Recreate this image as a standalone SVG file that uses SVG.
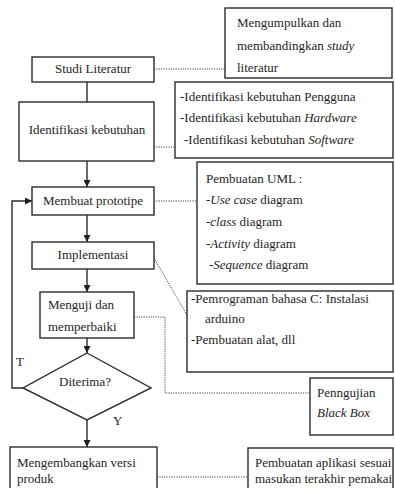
<svg xmlns="http://www.w3.org/2000/svg" width="395" height="488" viewBox="0 0 395 488">
<style>
.b{fill:#fff;stroke:#2b2b2b;stroke-width:1.4}
.t{font-family:'Liberation Serif','Times New Roman',Times,'DejaVu Serif',serif;font-size:13px;fill:#1e1e1e}
.c{text-anchor:middle}
.i{font-style:italic}
.ln{fill:none;stroke:#2b2b2b;stroke-width:1.4}
.dt{fill:none;stroke:#444;stroke-width:1;stroke-dasharray:1.2 1.2}
</style>
<defs>
<marker id="ah" viewBox="0 0 10 10" refX="10" refY="5" markerWidth="7" markerHeight="7" markerUnits="userSpaceOnUse" orient="auto">
<path d="M0,0 L10,5 L0,10 z" fill="#1e1e1e"/>
</marker>
</defs>
<rect width="395" height="488" fill="#fff"/>
<g id="connectors">
<line class="ln" x1="87" y1="82" x2="87" y2="102"/>
<line class="ln" x1="87" y1="161" x2="87" y2="187" marker-end="url(#ah)"/>
<line class="ln" x1="87" y1="215" x2="87" y2="242" marker-end="url(#ah)"/>
<line class="ln" x1="87" y1="269" x2="87" y2="292" marker-end="url(#ah)"/>
<line class="ln" x1="87" y1="338" x2="87" y2="353" marker-end="url(#ah)"/>
<line class="ln" x1="87" y1="420" x2="87" y2="447" marker-end="url(#ah)"/>
<polyline class="ln" points="23,388 12,388 12,201 32,201" marker-end="url(#ah)"/>
<line class="dt" x1="154" y1="69" x2="225" y2="69"/>
<line class="dt" x1="154" y1="147" x2="175" y2="147"/>
<line class="dt" x1="154" y1="201" x2="197" y2="201"/>
<line class="dt" x1="154" y1="258" x2="187" y2="315"/>
<polyline class="dt" points="134,317 165,317 165,393 310,393"/>
<line class="dt" x1="157" y1="477" x2="248" y2="477"/>
<text class="t" x="16" y="366">T</text>
<text class="t" x="113" y="425">Y</text>
</g>
<g id="studi">
<rect class="b" x="32" y="57" width="122" height="25"/>
<text class="t c" x="93" y="73">Studi Literatur</text>
</g>
<g id="note-studi">
<rect class="b" x="225" y="8" width="167" height="70"/>
<text class="t" x="237" y="27">Mengumpulkan dan</text>
<text class="t" x="237" y="50">membandingkan <tspan class="i">study</tspan></text>
<text class="t" x="237" y="72">literatur</text>
</g>
<g id="identifikasi">
<rect class="b" x="19" y="102" width="135" height="59"/>
<text class="t c" x="87" y="134">Identifikasi kebutuhan</text>
</g>
<g id="note-identifikasi">
<rect class="b" x="175" y="82" width="218" height="76"/>
<text class="t" x="180" y="101">-Identifikasi kebutuhan Pengguna</text>
<text class="t" x="180" y="122">-Identifikasi kebutuhan <tspan class="i">Hardware</tspan></text>
<text class="t" x="184" y="144">-Identifikasi kebutuhan <tspan class="i">Software</tspan></text>
</g>
<g id="prototipe">
<rect class="b" x="32" y="187" width="122" height="28"/>
<text class="t c" x="93" y="205">Membuat prototipe</text>
</g>
<g id="note-prototipe">
<rect class="b" x="197" y="162" width="196" height="122"/>
<text class="t" x="206" y="183">Pembuatan UML  :</text>
<text class="t" x="206" y="204"><tspan class="i">-Use case</tspan> diagram</text>
<text class="t" x="206" y="226">-<tspan class="i">class</tspan> diagram</text>
<text class="t" x="206" y="248">-<tspan class="i">Activity</tspan> diagram</text>
<text class="t" x="209" y="269">-<tspan class="i">Sequence</tspan> diagram</text>
</g>
<g id="implementasi">
<rect class="b" x="32" y="242" width="122" height="27"/>
<text class="t c" x="93" y="259">Implementasi</text>
</g>
<g id="note-implementasi">
<rect class="b" x="187" y="291" width="206" height="81"/>
<text class="t" x="191" y="303">-Pemrograman bahasa C: Instalasi</text>
<text class="t" x="205" y="323">arduino</text>
<text class="t" x="191" y="344">-Pembuatan alat, dll</text>
</g>
<g id="menguji">
<rect class="b" x="40" y="292" width="94" height="46"/>
<text class="t" x="48" y="309">Menguji dan</text>
<text class="t" x="48" y="331">memperbaiki</text>
</g>
<g id="note-menguji">
<rect class="b" x="310" y="378" width="83" height="57"/>
<text class="t" x="317" y="397">Penngujian</text>
<text class="t i" x="317" y="417">Black Box</text>
</g>
<g id="diterima">
<polygon class="b" points="87,353 151,388 87,420 23,388"/>
<text class="t c" x="85" y="386">Diterima?</text>
</g>
<g id="mengembangkan">
<rect class="b" x="10" y="447" width="147" height="50"/>
<text class="t" x="17" y="467">Mengembangkan versi</text>
<text class="t" x="17" y="483">produk</text>
</g>
<g id="note-mengembangkan">
<rect class="b" x="248" y="448" width="145" height="50"/>
<text class="t" x="255" y="467">Pembuatan aplikasi sesuai</text>
<text class="t" x="255" y="483">masukan terakhir pemakai</text>
</g>
</svg>
